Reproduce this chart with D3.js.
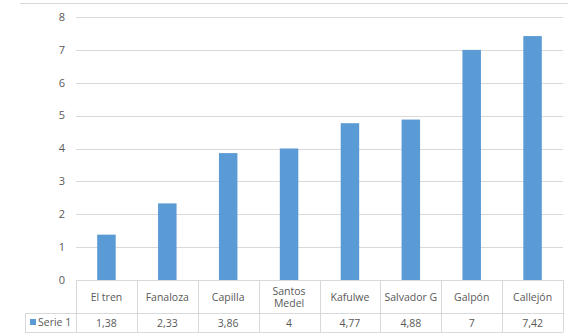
<!DOCTYPE html>
<html><head><meta charset="utf-8">
<script src="https://cdn.jsdelivr.net/npm/d3@7"></script>
<style>body{margin:0;background:#fff}svg{display:block}text{font-family:"Open Sans",sans-serif;fill:#595959}</style>
</head><body><svg id="c" width="568" height="336"></svg>
<script>
const categories = ["El tren","Fanaloza","Capilla","Santos Medel","Kafulwe","Salvador G","Galpón","Callejón"];
const values = [1.38,2.33,3.86,4,4.77,4.88,7,7.42];
const valueLabels = ["1,38","2,33","3,86","4","4,77","4,88","7","7,42"];
const yTicks = [0,1,2,3,4,5,6,7,8];
const seriesName = "Serie 1";

const svg = d3.select("#c");
const L = 76, R = 563, T = 17, B = 280;
const x = d3.scaleBand().domain(categories).range([L, R]).paddingInner(0.7).paddingOuter(0.35);
const xc = d3.scaleBand().domain(categories).range([L, R]);
const y = d3.scaleLinear().domain([0, 8]).range([B, T]);
const grid = "#d9d9d9";

svg.append("line").attr("x1",20).attr("x2",568).attr("y1",3.5).attr("y2",3.5).attr("stroke",grid);

svg.append("g").selectAll("line").data(yTicks.filter(d=>d>0)).join("line")
  .attr("x1",L).attr("x2",R).attr("y1",d=>Math.round(y(d))+0.5).attr("y2",d=>Math.round(y(d))+0.5)
  .attr("stroke",grid);

svg.append("g").selectAll("text").data(yTicks).join("text")
  .attr("x",65).attr("y",d=>y(d)).attr("dy","0.35em").attr("text-anchor","end")
  .style("font-size","11px").text(d=>d);

const bw = 18.5;
svg.append("g").selectAll("rect").data(values).join("rect")
  .attr("x",(d,i)=>xc(categories[i])+xc.bandwidth()/2-bw/2).attr("width",bw)
  .attr("y",d=>y(d)).attr("height",d=>y(0)-y(d)).attr("fill","#5b9bd5");

// table
const rowY = 313, botY = 332;
const tg = svg.append("g").attr("stroke",grid).attr("fill","none");
tg.append("line").attr("x1",L).attr("x2",R).attr("y1",B+0.5).attr("y2",B+0.5);
tg.append("line").attr("x1",25).attr("x2",R).attr("y1",rowY+0.5).attr("y2",rowY+0.5);
tg.append("line").attr("x1",25).attr("x2",R).attr("y1",botY+0.5).attr("y2",botY+0.5);
tg.append("line").attr("x1",25.5).attr("x2",25.5).attr("y1",rowY).attr("y2",botY);
tg.selectAll("line.v").data(categories.concat(["end"])).join("line").attr("class","v")
  .attr("x1",(d,i)=>Math.round(L+i*xc.bandwidth())+0.5).attr("x2",(d,i)=>Math.round(L+i*xc.bandwidth())+0.5)
  .attr("y1",B).attr("y2",botY);

const hg = svg.append("g");
categories.forEach((c,i)=>{
  const cx = xc(c)+xc.bandwidth()/2;
  const lines = c === "Santos Medel" ? ["Santos","Medel"] : [c];
  const t = hg.append("text").attr("text-anchor","middle").style("font-size","10.5px");
  lines.forEach((ln,j)=>{
    t.append("tspan").attr("x",cx).attr("y", lines.length===1 ? 297.5 : 291 + j*12.5).attr("dy","0.35em").text(ln);
  });
  hg.append("text").attr("x",cx).attr("y",323).attr("dy","0.35em").attr("text-anchor","middle")
    .style("font-size","10.5px").text(valueLabels[i]);
});
svg.append("rect").attr("x",30).attr("y",319).attr("width",6).attr("height",6).attr("fill","#5b9bd5");
svg.append("text").attr("x",38).attr("y",322.5).attr("dy","0.35em").style("font-size","10.5px").text(seriesName);
</script></body></html>
